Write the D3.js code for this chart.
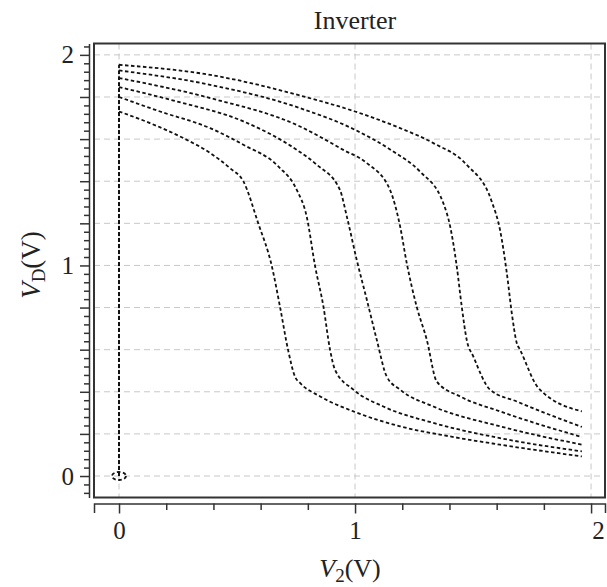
<!DOCTYPE html>
<html>
<head>
<meta charset="UTF-8">
<title>Inverter</title>
<script src="https://d3js.org/d3.v7.min.js"></script>
<style>
    body { margin: 0; background: #fff; }
    svg { display: block; font-family: "Liberation Serif", "Times New Roman", serif; }
</style>
</head>
<body>
<svg width="607" height="587"></svg>
<script>
// transfer curves, [V2, VD] pairs (each one starts from 0 V at V2 = 0)
const c1 = [[0,1.731],[0.131,1.676],[0.272,1.605],[0.386,1.534],[0.470,1.462],[0.527,1.399],[0.589,1.203],[0.648,0.994],[0.682,0.804],[0.716,0.600],[0.746,0.471],[0.767,0.442],[0.852,0.378],[0.993,0.307],[1.191,0.236],[1.403,0.188],[1.614,0.149],[1.961,0.093]];
const c2 = [[0,1.800],[0.174,1.731],[0.386,1.652],[0.527,1.573],[0.675,1.470],[0.753,1.359],[0.795,1.233],[0.831,0.995],[0.866,0.805],[0.894,0.600],[0.915,0.505],[0.993,0.410],[1.120,0.330],[1.332,0.252],[1.614,0.180],[1.961,0.117]];
const c3 = [[0,1.847],[0.244,1.779],[0.527,1.684],[0.753,1.549],[0.838,1.478],[0.936,1.359],[0.965,1.233],[1.007,1.027],[1.050,0.837],[1.092,0.647],[1.134,0.473],[1.191,0.410],[1.332,0.330],[1.614,0.236],[1.961,0.149]];
const c4 = [[0,1.890],[0.386,1.795],[0.767,1.660],[0.950,1.549],[1.050,1.486],[1.148,1.359],[1.191,1.185],[1.219,1.011],[1.261,0.805],[1.304,0.647],[1.346,0.449],[1.445,0.378],[1.614,0.307],[1.961,0.185]];
const c5 = [[0,1.926],[0.386,1.858],[0.767,1.747],[1.0,1.644],[1.162,1.541],[1.275,1.446],[1.374,1.296],[1.403,1.185],[1.431,0.995],[1.452,0.805],[1.473,0.647],[1.501,0.568],[1.572,0.410],[1.685,0.354],[1.961,0.233]];
const c6 = [[0,1.953],[0.386,1.905],[0.767,1.807],[1.0,1.731],[1.191,1.652],[1.332,1.581],[1.473,1.478],[1.579,1.304],[1.614,1.170],[1.643,0.964],[1.664,0.774],[1.685,0.632],[1.699,0.600],[1.777,0.418],[1.961,0.307]];
const curves = [c1, c2, c3, c4, c5, c6];

const xLabels = [0, 1, 2];
const yLabels = [0, 1, 2];
const yGrid = d3.range(0, 2.0001, 0.2);
const xGrid = [0, 1, 2];

const svg = d3.select("svg");
const pL = 94, pR = 605, pT = 43.5, pB = 497.5;

const x = d3.scaleLinear().domain([-0.106, 2.059]).range([pL, pR]);
const y = d3.scaleLinear().domain([-0.102, 2.054]).range([pB, pT]);

// grid
svg.append("g").selectAll("line").data(yGrid).join("line")
    .attr("x1", pL).attr("x2", pR)
    .attr("y1", d => y(d)).attr("y2", d => y(d))
    .attr("stroke", "#c8c8c8").attr("stroke-dasharray", "6,4");
svg.append("g").selectAll("line").data(xGrid).join("line")
    .attr("x1", d => x(d)).attr("x2", d => x(d))
    .attr("y1", pT).attr("y2", pB)
    .attr("stroke", "#c8c8c8").attr("stroke-dasharray", "6,4");

const curveStyle = sel => sel.attr("fill", "none")
    .attr("stroke", "#111")
    .attr("stroke-width", 1.8)
    .attr("stroke-dasharray", "3.5,2.5");

// the vertical rise at V2 = 0
const rise = d3.line().x(d => x(d[0])).y(d => y(d[1]));
svg.append("g").selectAll("path").data(curves).join("path")
    .attr("d", c => rise([[0, 0], c[0]]))
    .call(curveStyle);

// curves
const line = d3.line().x(d => x(d[0])).y(d => y(d[1])).curve(d3.curveMonotoneX);
svg.append("g").selectAll("path").data(curves).join("path")
    .attr("d", line)
    .call(curveStyle);

// little loop at the origin
svg.append("ellipse")
    .attr("cx", x(0)).attr("cy", y(0))
    .attr("rx", 7).attr("ry", 4)
    .call(curveStyle);

// frame
svg.append("rect")
    .attr("x", pL).attr("y", pT)
    .attr("width", pR - pL).attr("height", pB - pT)
    .attr("fill", "none").attr("stroke", "#333").attr("stroke-width", 2);

// y axis
const yAxisX = 89;
const yMinor = d3.range(-0.08, 2.05, 0.04).filter(v => Math.abs(v / 0.2 - Math.round(v / 0.2)) > 1e-6);
const yMajor = d3.range(0, 2.0001, 0.2);
const gy = svg.append("g").attr("transform", `translate(${yAxisX},0)`);
gy.call(d3.axisLeft(y).tickValues(yMinor).tickSize(5).tickSizeOuter(0).tickFormat(""));
gy.append("g").call(d3.axisLeft(y).tickValues(yMajor).tickSize(9).tickPadding(6)
    .tickFormat(d => yLabels.some(v => Math.abs(v - d) < 1e-6) ? d3.format("d")(d) : ""))
    .select(".domain").remove();

// x axis
const xAxisY = 503.5;
const xMinor = d3.range(0, 2.0001, 0.2).filter(v => !xLabels.some(l => Math.abs(l - v) < 1e-6));
const gx = svg.append("g").attr("transform", `translate(0,${xAxisY})`);
gx.call(d3.axisBottom(x).tickValues(xMinor).tickSize(6.5).tickSizeOuter(9.5).tickFormat(""));
gx.append("g").call(d3.axisBottom(x).tickValues(xLabels).tickSize(10).tickPadding(8).tickFormat(d3.format("d")))
    .select(".domain").remove();

svg.selectAll(".tick line, .domain").attr("stroke", "#333").attr("stroke-width", 1.5);
svg.selectAll(".tick text").attr("font-size", 25).attr("fill", "#222")
    .attr("font-family", "'Liberation Serif', serif");
gx.selectAll(".tick text").filter(d => d === 2).attr("dx", 7);

// title
svg.append("text").attr("x", 355).attr("y", 29)
    .attr("text-anchor", "middle").attr("font-size", 26).attr("fill", "#222")
    .text("Inverter");

// axis titles
const xt = svg.append("text").attr("x", 350).attr("y", 577)
    .attr("text-anchor", "middle").attr("font-size", 26).attr("fill", "#222");
xt.append("tspan").attr("font-style", "italic").text("V");
xt.append("tspan").attr("font-size", 19).attr("dy", 5).text("2");
xt.append("tspan").attr("dy", -5).text("(V)");

const yt = svg.append("text").attr("transform", "translate(40,265) rotate(-90)")
    .attr("text-anchor", "middle").attr("font-size", 27).attr("fill", "#222");
yt.append("tspan").attr("font-style", "italic").text("V");
yt.append("tspan").attr("font-size", 19).attr("dy", 5).text("D");
yt.append("tspan").attr("dy", -5).text("(V)");
</script>
</body>
</html>
